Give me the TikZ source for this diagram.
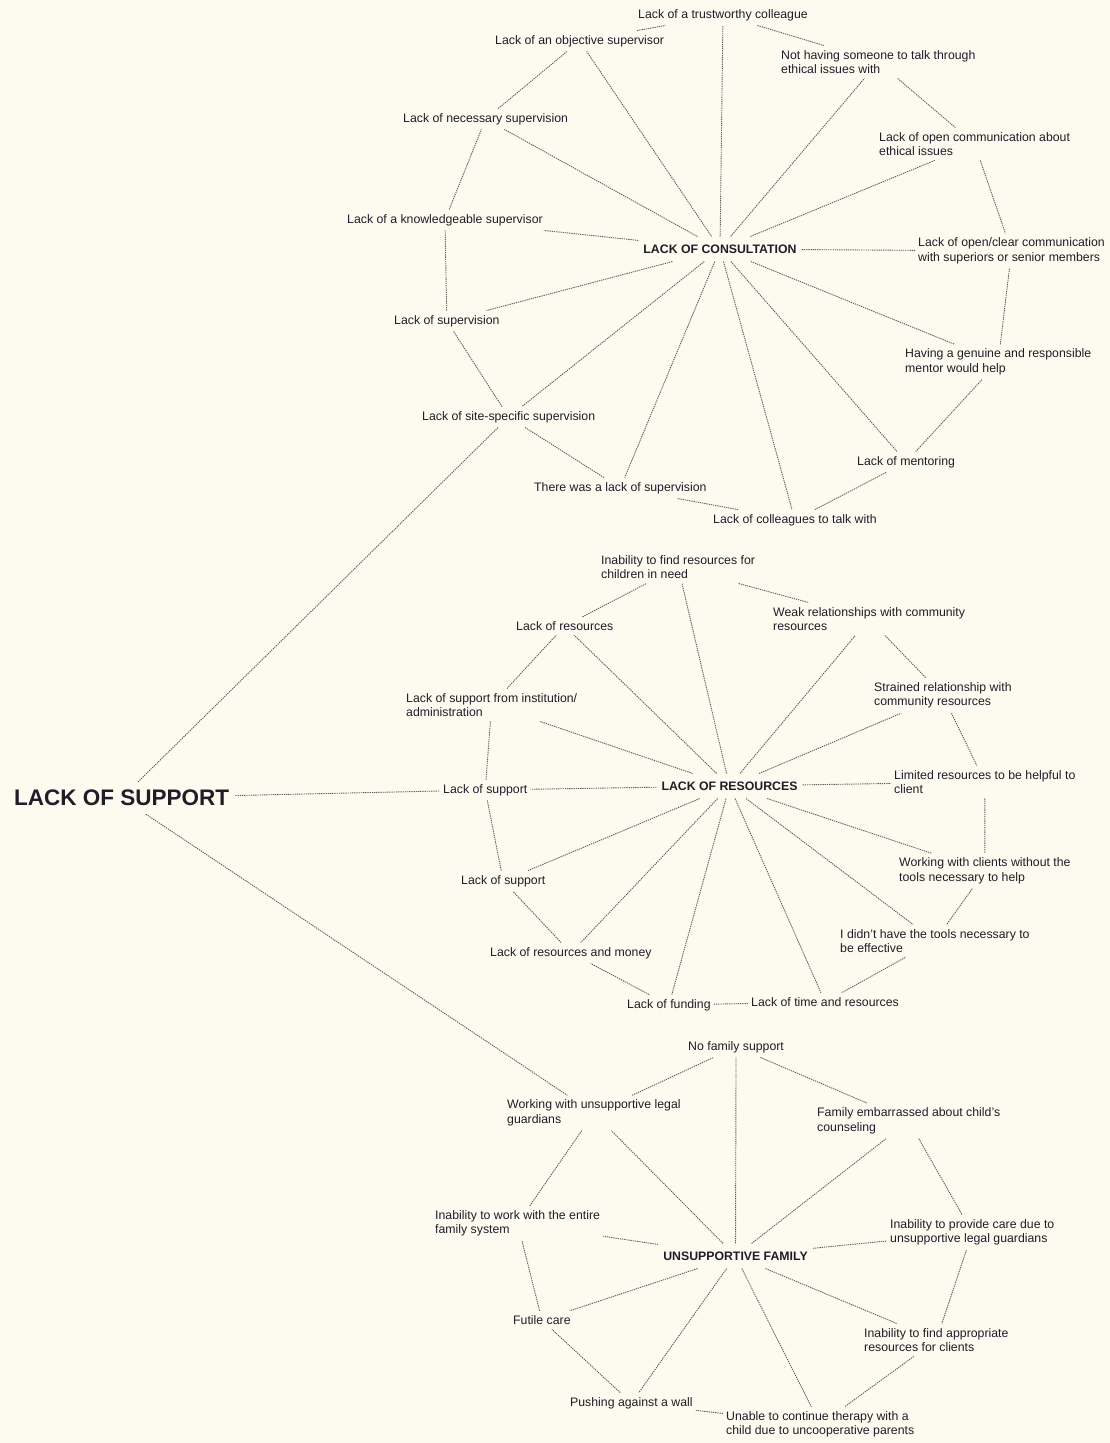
\documentclass[tikz,border=0pt]{standalone}
\usepackage{fontspec}
\setmainfont{Liberation Sans}
\definecolor{paper}{RGB}{253,250,240}
\definecolor{ink}{RGB}{30,30,40}
\definecolor{wire}{RGB}{95,95,95}
\begin{document}
\begin{tikzpicture}[x=1pt,y=-1pt,
  leaf/.style={anchor=west, align=left, font=\fontsize{12.3}{14.5}\selectfont, text=ink, inner xsep=3pt, inner ysep=4.5pt},
  hub/.style={font=\bfseries\fontsize{12.3}{14.5}\selectfont, text=ink, inner xsep=5pt, inner ysep=8pt},
  rootbox/.style={anchor=west, font=\bfseries\fontsize{22.5}{26}\selectfont, text=ink, inner xsep=6pt, inner ysep=8pt},
  link/.style={draw=wire, line width=0.9pt, dash pattern=on 1.3pt off 0.9pt}]

\fill[paper] (0,0) rectangle (1110,1443);
\useasboundingbox (0,0) rectangle (1110,1443);

% root
\node[rootbox] (root) at (8,798) {LACK OF SUPPORT};

% consultation cluster
\node[hub] (c1) at (720,249) {LACK OF CONSULTATION};
\node[leaf] (a1) at (635,15) {Lack of a trustworthy colleague};
\node[leaf] (a2) at (778,62) {Not having someone to talk through\\ethical issues with};
\node[leaf] (a3) at (876,144) {Lack of open communication about\\ethical issues};
\node[leaf] (a4) at (915,251) {Lack of open/clear communication\\with superiors or senior members};
\node[leaf] (a5) at (902,362) {Having a genuine and responsible\\mentor would help};
\node[leaf] (a6) at (854,462) {Lack of mentoring};
\node[leaf] (a7) at (710,520) {Lack of colleagues to talk with};
\node[leaf] (a8) at (531,488) {There was a lack of supervision};
\node[leaf] (a9) at (419,417) {Lack of site-specific supervision};
\node[leaf] (a10) at (391,321) {Lack of supervision};
\node[leaf] (a11) at (344,220) {Lack of a knowledgeable supervisor};
\node[leaf] (a12) at (400,119) {Lack of necessary supervision};
\node[leaf] (a13) at (492,41) {Lack of an objective supervisor};

% resources cluster
\node[hub] (c2) at (729.5,786) {LACK OF RESOURCES};
\node[leaf] (b1) at (598,567) {Inability to find resources for\\children in need};
\node[leaf] (b2) at (770,619) {Weak relationships with community\\resources};
\node[leaf] (b3) at (871,695.5) {Strained relationship with\\community resources};
\node[leaf] (b4) at (891,782) {Limited resources to be helpful to\\client};
\node[leaf] (b5) at (896,871) {Working with clients without the\\tools necessary to help};
\node[leaf] (b6) at (837,941) {I didn't have the tools necessary to\\be effective};
\node[leaf] (b7) at (748,1002) {Lack of time and resources};
\node[leaf] (b8) at (624,1005) {Lack of funding};
\node[leaf] (b9) at (487,953) {Lack of resources and money};
\node[leaf] (b10) at (458,881) {Lack of support};
\node[leaf] (b11) at (440,790) {Lack of support};
\node[leaf] (b12) at (403,705) {Lack of support from institution/\\administration};
\node[leaf] (b13) at (513,626) {Lack of resources};

% family cluster
\node[hub] (c3) at (735.5,1256) {UNSUPPORTIVE FAMILY};
\node[leaf] (d1) at (685,1047) {No family support};
\node[leaf] (d2) at (814,1121) {Family embarrassed about child's\\counseling};
\node[leaf] (d3) at (887,1232.5) {Inability to provide care due to\\unsupportive legal guardians};
\node[leaf] (d4) at (861,1340) {Inability to find appropriate\\resources for clients};
\node[leaf] (d5) at (723,1424.5) {Unable to continue therapy with a\\child due to uncooperative parents};
\node[leaf] (d6) at (567,1403) {Pushing against a wall};
\node[leaf] (d7) at (510,1320) {Futile care};
\node[leaf] (d8) at (432,1223.5) {Inability to work with the entire\\family system};
\node[leaf] (d9) at (504,1113) {Working with unsupportive legal\\guardians};

% spokes
\foreach \i in {1,...,13} {\draw[link] (c1) -- (a\i);}
\foreach \i in {1,...,13} {\draw[link] (c2) -- (b\i);}
\foreach \i in {1,...,9} {\draw[link] (c3) -- (d\i);}

% rings
\foreach \i/\j in {1/2,2/3,3/4,4/5,5/6,6/7,7/8,8/9,9/10,10/11,11/12,12/13,13/1}
  {\draw[link] (a\i) -- (a\j);}
\foreach \i/\j in {1/2,2/3,3/4,4/5,5/6,6/7,7/8,8/9,9/10,10/11,11/12,12/13,13/1}
  {\draw[link] (b\i) -- (b\j);}
\foreach \i/\j in {1/2,2/3,3/4,4/5,5/6,6/7,7/8,8/9,9/1}
  {\draw[link] (d\i) -- (d\j);}

% root branches
\draw[link] (root) -- (a9);
\draw[link] (root) -- (b11);
\draw[link] (root) -- (d9);
\end{tikzpicture}
\end{document}
